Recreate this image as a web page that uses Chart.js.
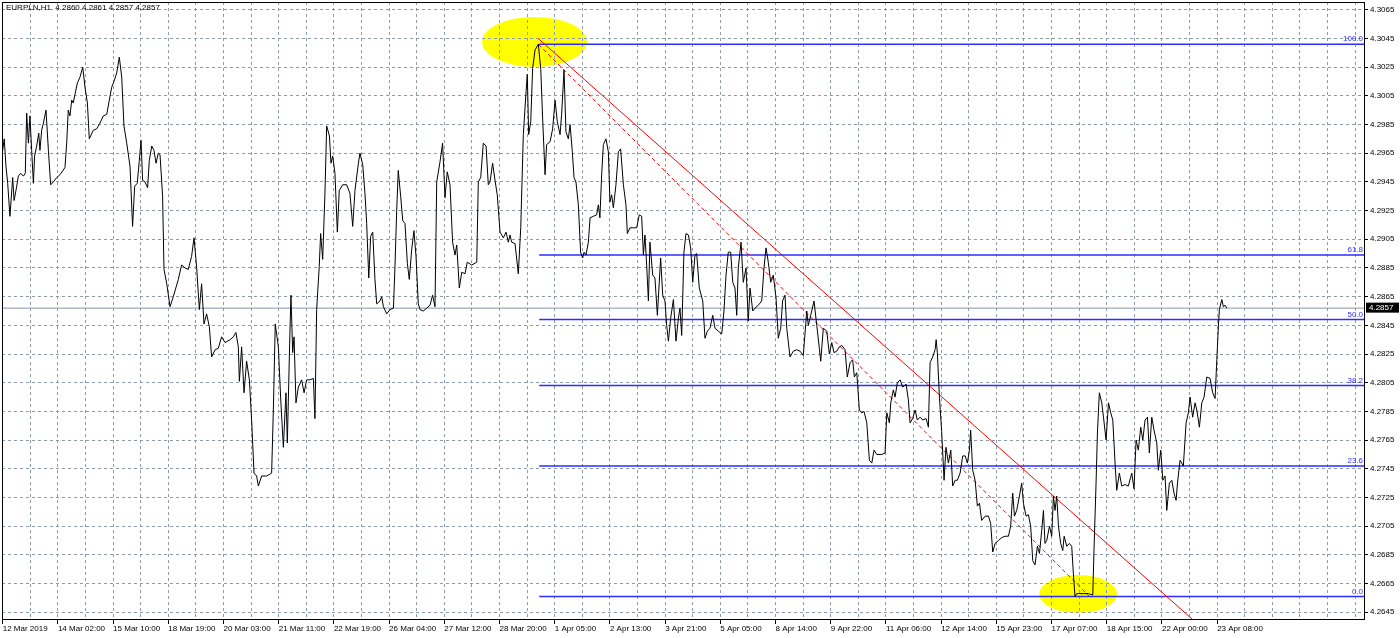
<!DOCTYPE html>
<html>
<head>
<meta charset="utf-8">
<script src="https://cdn.jsdelivr.net/npm/chart.js@4.4.0/dist/chart.umd.min.js"></script>
<style>
  html, body { margin: 0; padding: 0; background: #fff; }
  canvas { display: block; }
</style>
</head>
<body>
<canvas id="chart" width="1400" height="638"></canvas>
<script>
// EURPLN H1 close prices, x = bar number counted from the first bar on screen
const barsA = [
  0.0, 0.9, 1.9, 2.9, 4.2, 5.8, 6.6, 7.7, 9.1, 10.4,
  12.0, 13.1, 13.9, 14.9, 15.8, 16.8, 17.8, 18.5, 19.7, 20.9,
  21.6, 22.6, 23.6, 25.1, 26.5, 27.8, 29.4, 31.3, 33.2, 36.1,
  37.1, 38.0, 39.0, 40.0, 40.9, 41.9, 43.3, 44.8, 46.4, 47.7,
  49.1, 50.2, 52.5, 54.5, 56.4, 58.3, 60.3, 61.8, 63.2, 64.5,
  66.1, 67.6, 69.0, 70.3, 71.9, 73.8, 75.3, 76.5, 78.0, 79.2,
  80.2, 81.1, 82.5, 84.0, 85.0, 86.4, 87.7, 88.9, 90.2, 91.2,
  92.7, 93.5, 95.1, 97.0, 98.9, 101.8, 103.7, 105.7, 107.6, 109.5,
  110.9, 112.4, 114.0, 115.3, 116.7, 118.2, 119.8, 121.1, 123.1, 125.0,
  126.9, 128.9, 131.8, 133.7, 135.2, 136.6, 137.2, 138.5, 139.9, 141.4,
  143.0, 144.3, 145.7, 147.2, 148.2, 150.1, 153.0, 155.9, 156.9, 158.0,
  159.8, 161.1, 162.7, 164.2, 165.0, 166.5, 167.1, 168.1, 168.9, 170.0,
  171.4, 173.3, 174.7, 176.2, 178.1, 180.1, 181.0, 182.0, 183.5, 184.3,
  185.5, 186.8, 187.8, 189.4, 190.3, 191.3, 192.6, 194.0, 195.1, 197.1,
  199.4, 201.3, 202.9, 204.2, 206.2, 207.1, 208.7, 210.0, 211.0, 212.2,
  213.3, 214.5, 215.8, 216.8, 218.7, 219.7, 220.7, 222.6, 224.5, 226.5,
  227.4, 228.4, 229.3, 230.7, 231.9, 233.2, 234.6, 235.7, 237.1, 238.4,
  239.6, 240.9, 241.9
];
const pricesA = [
  4.2967, 4.2975, 4.2956, 4.2944, 4.2921, 4.2948, 4.2932, 4.2939, 4.2949, 4.2951,
  4.2949, 4.2951, 4.2993, 4.2972, 4.2991, 4.2967, 4.2944, 4.2963, 4.2970, 4.2979,
  4.2967, 4.2981, 4.2986, 4.2995, 4.2967, 4.2943, 4.2945, 4.2948, 4.2950, 4.2955,
  4.2972, 4.2995, 4.2991, 4.3002, 4.3000, 4.3006, 4.3014, 4.3018, 4.3025, 4.3011,
  4.3000, 4.2975, 4.2981, 4.2982, 4.2986, 4.2991, 4.2992, 4.3002, 4.3011, 4.3015,
  4.3021, 4.3032, 4.3018, 4.2984, 4.2972, 4.2956, 4.2914, 4.2942, 4.2944, 4.2960,
  4.2974, 4.2946, 4.2945, 4.2941, 4.2960, 4.2970, 4.2967, 4.2958, 4.2965, 4.2964,
  4.2935, 4.2884, 4.2874, 4.2858, 4.2865, 4.2877, 4.2887, 4.2885, 4.2884, 4.2893,
  4.2906, 4.2886, 4.2856, 4.2874, 4.2846, 4.2853, 4.2844, 4.2823, 4.2828, 4.2829,
  4.2837, 4.2833, 4.2835, 4.2837, 4.2840, 4.2830, 4.2806, 4.2830, 4.2798, 4.2820,
  4.2807, 4.2779, 4.2742, 4.2740, 4.2733, 4.2740, 4.2740, 4.2742, 4.2786, 4.2846,
  4.2830, 4.2795, 4.2760, 4.2798, 4.2763, 4.2840, 4.2866, 4.2826, 4.2837, 4.2791,
  4.2802, 4.2807, 4.2798, 4.2807, 4.2807, 4.2808, 4.2780, 4.2856, 4.2886, 4.2909,
  4.2891, 4.2937, 4.2984, 4.2977, 4.2958, 4.2963, 4.2951, 4.2910, 4.2939, 4.2943,
  4.2943, 4.2937, 4.2914, 4.2939, 4.2958, 4.2965, 4.2957, 4.2937, 4.2916, 4.2878,
  4.2907, 4.2910, 4.2877, 4.2860, 4.2862, 4.2865, 4.2858, 4.2853, 4.2856, 4.2857,
  4.2886, 4.2925, 4.2953, 4.2935, 4.2918, 4.2916, 4.2888, 4.2877, 4.2898, 4.2911,
  4.2893, 4.2860, 4.2856
];
const barsB = [
  243.8, 245.8, 247.7, 249.2, 250.6, 251.6, 253.5, 255.0, 256.4, 257.7,
  259.3, 260.8, 262.2, 263.2, 264.7, 266.1, 268.0, 269.3, 271.9, 274.8,
  275.7, 277.1, 278.6, 280.2, 281.5, 282.5, 284.0, 285.4, 286.7, 288.3,
  290.2, 291.8, 293.1, 294.1, 295.0, 297.0, 298.9, 300.3, 301.8, 303.4,
  304.1, 304.9, 306.1, 307.2, 308.6, 310.5, 311.9, 313.0, 314.4, 315.3,
  317.3, 318.8, 320.2, 321.5, 323.1, 324.0, 325.4, 326.5, 327.9, 328.9,
  330.2, 331.2, 332.3, 333.7, 335.0, 336.2, 337.0, 338.1, 339.5, 340.5,
  342.4, 344.3, 345.3, 346.2, 347.2, 348.2, 349.7, 351.1, 352.0, 353.0,
  354.0, 355.5, 356.9, 358.2, 359.8, 361.3, 362.1, 363.6, 365.6, 367.5,
  369.0, 370.4, 371.4, 372.3, 373.3, 374.3, 375.2, 376.8, 378.1, 379.5,
  380.6, 381.4, 382.6, 383.9, 384.9, 385.9, 387.2, 388.8, 390.3, 391.7,
  392.6, 393.6, 394.9, 396.1, 397.5, 398.8, 400.0, 401.3, 402.3, 403.8,
  405.8, 407.1, 408.5, 410.0, 411.6, 412.9, 414.8, 416.8, 418.1, 419.3,
  420.6, 422.0, 423.2, 424.5, 425.5, 426.4, 428.0, 429.3, 430.9, 432.2,
  433.2, 434.8, 436.1, 438.0, 440.0, 441.3, 442.5, 443.8, 445.2, 446.7,
  448.3, 449.6, 451.0, 452.1, 453.5, 454.5, 456.4, 458.3, 460.3, 462.2,
  464.1, 466.1, 467.0, 468.4, 470.3, 471.9, 473.4, 474.2, 475.7, 477.7,
  479.2
];
const pricesB = [
  4.2855, 4.2857, 4.2859, 4.2866, 4.2858, 4.2945, 4.2959, 4.2972, 4.2934, 4.2952,
  4.2943, 4.2903, 4.2894, 4.2901, 4.2871, 4.2882, 4.2881, 4.2889, 4.2887, 4.2889,
  4.2945, 4.2948, 4.2972, 4.2970, 4.2943, 4.2945, 4.2958, 4.2946, 4.2936, 4.2910,
  4.2906, 4.2910, 4.2903, 4.2908, 4.2903, 4.2902, 4.2881, 4.2913, 4.2978, 4.3008,
  4.3020, 4.2978, 4.2987, 4.3024, 4.3037, 4.3041, 4.3024, 4.2989, 4.2950, 4.2971,
  4.2973, 4.2982, 4.3002, 4.2987, 4.2978, 4.2992, 4.3023, 4.2980, 4.2975, 4.2985,
  4.2966, 4.2948, 4.2945, 4.2929, 4.2896, 4.2892, 4.2896, 4.2894, 4.2903, 4.2920,
  4.2921, 4.2922, 4.2929, 4.2920, 4.2950, 4.2971, 4.2975, 4.2966, 4.2931, 4.2936,
  4.2927, 4.2943, 4.2966, 4.2968, 4.2943, 4.2929, 4.2909, 4.2913, 4.2913, 4.2913,
  4.2922, 4.2921, 4.2894, 4.2908, 4.2887, 4.2862, 4.2903, 4.2880, 4.2878, 4.2852,
  4.2875, 4.2892, 4.2866, 4.2862, 4.2845, 4.2834, 4.2850, 4.2863, 4.2834, 4.2850,
  4.2857, 4.2838, 4.2896, 4.2909, 4.2908, 4.2899, 4.2875, 4.2894, 4.2895, 4.2871,
  4.2862, 4.2836, 4.2841, 4.2843, 4.2852, 4.2843, 4.2841, 4.2839, 4.2855, 4.2880,
  4.2896, 4.2896, 4.2875, 4.2871, 4.2852, 4.2885, 4.2903, 4.2875, 4.2885, 4.2848,
  4.2871, 4.2855, 4.2857, 4.2859, 4.2862, 4.2885, 4.2899, 4.2889, 4.2875, 4.2880,
  4.2864, 4.2836, 4.2843, 4.2862, 4.2866, 4.2843, 4.2823, 4.2827, 4.2828, 4.2827,
  4.2824, 4.2855, 4.2845, 4.2852, 4.2862, 4.2845, 4.2829, 4.2820, 4.2843, 4.2841,
  4.2825
];
const barsC = [
  480.6, 481.9, 483.5, 485.0, 486.4, 488.3, 489.6, 491.2, 492.7, 493.7,
  495.1, 496.6, 498.0, 499.3, 500.9, 502.4, 503.8, 505.1, 506.7, 509.6,
  511.5, 512.5, 514.0, 514.8, 516.3, 517.3, 518.6, 520.2, 521.7, 523.7,
  525.0, 526.0, 527.5, 528.9, 530.2, 531.8, 533.3, 535.3, 536.6, 537.6,
  539.1, 540.5, 541.1, 541.8, 543.0, 544.3, 545.7, 546.8, 548.2, 549.6,
  550.7, 552.1, 553.4, 555.0, 556.5, 557.9, 559.2, 560.4, 561.1, 562.3,
  563.7, 565.0, 566.2, 567.5, 569.5, 571.4, 572.7, 573.9, 575.3, 577.2,
  579.1, 581.1, 583.0, 584.3, 585.5, 586.5, 587.8, 589.4, 590.7, 591.7,
  593.2, 594.6, 595.9, 597.1, 598.4, 599.8, 601.0, 602.3, 603.3, 604.2,
  605.2, 606.8, 608.1, 609.1, 610.0, 611.0, 612.0, 613.3, 614.5, 615.3,
  616.8, 618.3, 619.7, 620.7, 621.6, 622.6, 623.6, 626.5, 629.4, 631.9,
  632.6, 633.8, 634.6, 635.7, 637.1, 638.1, 639.6, 641.0, 642.3, 643.5,
  644.8, 645.8, 647.3, 648.7, 650.6, 652.5, 654.5, 655.8, 657.0, 658.3,
  659.7, 660.9, 662.2, 663.6, 664.7, 666.1, 667.4, 669.0, 669.9, 671.3,
  672.5, 673.8, 674.8, 676.3, 677.7, 679.0, 680.2, 681.0, 682.5, 684.4,
  686.0, 687.3, 688.3, 689.8, 691.2, 692.2, 693.7, 695.1, 696.4, 698.0,
  699.9, 701.4, 702.8, 703.8, 704.7, 705.3, 706.7, 707.6, 708.6, 709.6
];
const pricesC = [
  4.2833, 4.2826, 4.2827, 4.2830, 4.2831, 4.2828, 4.2809, 4.2819, 4.2821, 4.2809,
  4.2812, 4.2786, 4.2784, 4.2785, 4.2777, 4.2751, 4.2749, 4.2758, 4.2755, 4.2755,
  4.2756, 4.2784, 4.2777, 4.2791, 4.2800, 4.2795, 4.2805, 4.2807, 4.2802, 4.2804,
  4.2793, 4.2777, 4.2780, 4.2786, 4.2779, 4.2781, 4.2779, 4.2780, 4.2774, 4.2819,
  4.2823, 4.2828, 4.2835, 4.2826, 4.2795, 4.2771, 4.2737, 4.2760, 4.2749, 4.2758,
  4.2733, 4.2737, 4.2737, 4.2742, 4.2754, 4.2754, 4.2749, 4.2758, 4.2772, 4.2744,
  4.2737, 4.2719, 4.2721, 4.2709, 4.2712, 4.2712, 4.2707, 4.2687, 4.2693, 4.2695,
  4.2697, 4.2698, 4.2698, 4.2705, 4.2728, 4.2712, 4.2716, 4.2726, 4.2735, 4.2721,
  4.2712, 4.2713, 4.2705, 4.2681, 4.2678, 4.2691, 4.2686, 4.2702, 4.2716, 4.2693,
  4.2695, 4.2705, 4.2698, 4.2726, 4.2716, 4.2726, 4.2705, 4.2693, 4.2688, 4.2698,
  4.2691, 4.2693, 4.2691, 4.2671, 4.2656, 4.2658, 4.2658, 4.2658, 4.2658, 4.2657,
  4.2688, 4.2735, 4.2770, 4.2798, 4.2791, 4.2781, 4.2765, 4.2791, 4.2784, 4.2779,
  4.2749, 4.2730, 4.2742, 4.2733, 4.2734, 4.2733, 4.2742, 4.2731, 4.2765, 4.2758,
  4.2774, 4.2765, 4.2779, 4.2781, 4.2756, 4.2781, 4.2772, 4.2763, 4.2744, 4.2758,
  4.2737, 4.2740, 4.2716, 4.2735, 4.2737, 4.2728, 4.2723, 4.2735, 4.2751, 4.2747,
  4.2777, 4.2784, 4.2795, 4.2781, 4.2791, 4.2786, 4.2774, 4.2791, 4.2795, 4.2809,
  4.2808, 4.2798, 4.2794, 4.2821, 4.2844, 4.2856, 4.2863, 4.2858, 4.2859, 4.2857
];

// time axis: one label every 32 bars, starting at bar 0
const xLabels = [
  '12 Mar 2019', '14 Mar 02:00', '15 Mar 10:00', '18 Mar 19:00', '20 Mar 03:00',
  '21 Mar 11:00', '22 Mar 19:00', '26 Mar 04:00', '27 Mar 12:00', '28 Mar 20:00',
  '1 Apr 05:00', '2 Apr 13:00', '3 Apr 21:00', '5 Apr 05:00', '8 Apr 14:00',
  '9 Apr 22:00', '11 Apr 06:00', '12 Apr 14:00', '15 Apr 23:00', '17 Apr 07:00',
  '18 Apr 15:00', '22 Apr 00:00', '23 Apr 08:00'
];
const yTicks = [
  4.2645, 4.2665, 4.2685, 4.2705, 4.2725, 4.2745, 4.2765, 4.2785, 4.2805, 4.2825, 4.2845,
  4.2865, 4.2885, 4.2905, 4.2925, 4.2945, 4.2965, 4.2985, 4.3005, 4.3025, 4.3045, 4.3065
];

// Fibonacci retracement (high 4.3041 -> low 4.2656)
const fibLevels = ['0.0', '23.6', '38.2', '50.0', '61.8', '100.0'];
const fibPrices = [4.2656, 4.2747, 4.2803, 4.2849, 4.2894, 4.3041];
const fibStartBar = 311;
// fib anchor line (dashed) and down trend line
const fibAnchorBars = [310.5, 630];
const fibAnchorPrices = [4.3041, 4.2656];
const trendBars = [310.4, 700];
const trendPrices = [4.3045, 4.2629];
// yellow ellipses: centre and half sizes in bars / price
const markBars = [308.3, 623.4];
const markPrices = [4.30426, 4.26577];
const markHalfBars = [30.4, 22.6];
const markHalfPrices = [0.00174, 0.00132];

const lastPrice = 4.2857;
const title = 'EURPLN,H1  4.2860 4.2861 4.2857 4.2857';

const X_MIN = -0.4, X_MAX = 789.7;
const Y_MIN = 4.26403, Y_MAX = 4.30704;
const FONT = "'Liberation Sans', Arial, sans-serif";
const GRID = '#8e9bab';

const pts = (xs, ys) => xs.map((x, i) => ({ x, y: ys[i] }));
const priceData = pts(barsA, pricesA).concat(pts(barsB, pricesB), pts(barsC, pricesC));

function line(data, color, width, dash) {
  return {
    data, borderColor: color, borderWidth: width, borderDash: dash || [],
    pointRadius: 0, pointHoverRadius: 0, tension: 0, fill: false
  };
}

const datasets = [
  line(priceData, '#000', 1),
  line(pts(trendBars, trendPrices), '#ff0000', 1),
  line(pts(fibAnchorBars, fibAnchorPrices), '#ff0000', 1, [4, 3]),
  ...fibPrices.map(p => line([{ x: fibStartBar, y: p }, { x: X_MAX, y: p }], 'rgb(45,45,255)', 1.5)),
  line([{ x: X_MIN, y: lastPrice }, { x: X_MAX, y: lastPrice }], '#8796a8', 1)
];

const mt4 = {
  id: 'mt4',
  beforeDraw(chart) {
    const { ctx, scales: { x, y } } = chart;
    ctx.save();
    ctx.fillStyle = '#fff';
    ctx.fillRect(0, 0, chart.width, chart.height);
    ctx.fillStyle = '#ffff00';
    markBars.forEach((b, i) => {
      const cx = x.getPixelForValue(b);
      const cy = y.getPixelForValue(markPrices[i]);
      const rx = x.getPixelForValue(b + markHalfBars[i]) - cx;
      const ry = cy - y.getPixelForValue(markPrices[i] + markHalfPrices[i]);
      ctx.beginPath();
      ctx.ellipse(cx, cy, rx, ry, 0, 0, Math.PI * 2);
      ctx.fill();
    });
    ctx.restore();
  },
  afterDatasetsDraw(chart) {
    const { ctx, chartArea, scales: { y } } = chart;
    ctx.save();
    ctx.font = '8px ' + FONT;
    ctx.fillStyle = 'rgb(45,45,255)';
    ctx.textAlign = 'right';
    ctx.textBaseline = 'bottom';
    fibLevels.forEach((lbl, i) => {
      ctx.fillText(lbl, chartArea.right - 2, y.getPixelForValue(fibPrices[i]) - 1);
    });
    ctx.restore();
  },
  afterDraw(chart) {
    const { ctx, chartArea: a, scales: { y } } = chart;
    ctx.save();
    // frame
    ctx.strokeStyle = '#000';
    ctx.lineWidth = 1;
    ctx.strokeRect(Math.round(a.left) + 0.5, Math.round(a.top) + 0.5,
      Math.round(a.right - a.left) - 1, Math.round(a.bottom - a.top));
    // title
    ctx.font = '8px ' + FONT;
    ctx.fillStyle = '#000';
    ctx.textAlign = 'left';
    ctx.textBaseline = 'middle';
    ctx.fillText(title, 6, 8);
    // last price box
    const py = y.getPixelForValue(lastPrice);
    ctx.fillRect(a.right + 1, py - 5.5, 33, 10);
    ctx.fillStyle = '#fff';
    ctx.fillText(lastPrice.toFixed(4), a.right + 4, py - 0.5);
    ctx.restore();
  }
};

new Chart(document.getElementById('chart'), {
  type: 'line',
  data: { datasets },
  options: {
    responsive: false,
    devicePixelRatio: 1,
    animation: false,
    layout: { padding: { left: 2, top: 2, right: 0, bottom: 0 } },
    plugins: { legend: { display: false }, tooltip: { enabled: false }, title: { display: false } },
    scales: {
      x: {
        type: 'linear',
        position: 'bottom',
        min: X_MIN,
        max: X_MAX,
        afterBuildTicks(s) {
          const t = [];
          for (let v = 0; v <= X_MAX; v += 16) t.push({ value: v });
          s.ticks = t;
        },
        afterFit(s) { s.height = 19; s.paddingLeft = 0; s.paddingRight = 0; },
        ticks: {
          autoSkip: false, maxRotation: 0, minRotation: 0, align: 'start', padding: 0,
          color: '#000', font: { family: FONT, size: 8 },
          callback(v) {
            const i = v / 32;
            return Number.isInteger(i) && i < xLabels.length ? xLabels[i] : '';
          }
        },
        grid: {
          color: GRID, lineWidth: 1, drawTicks: true, tickLength: 5, tickWidth: 1,
          tickBorderDash: [],
          tickColor: c => (c.tick && c.tick.value % 32 === 0 && c.tick.value / 32 < xLabels.length) ? '#000' : 'rgba(0,0,0,0)'
        },
        border: { display: false, dash: [3, 3] }
      },
      y: {
        type: 'linear',
        position: 'right',
        min: Y_MIN,
        max: Y_MAX,
        afterBuildTicks(s) { s.ticks = yTicks.map(v => ({ value: v })); },
        afterFit(s) { s.width = 35; s.paddingTop = 0; s.paddingBottom = 0; },
        ticks: {
          padding: 2, color: '#000', font: { family: FONT, size: 8 },
          callback: v => v.toFixed(4)
        },
        grid: {
          color: GRID, lineWidth: 1, drawTicks: true, tickLength: 3, tickWidth: 1,
          tickBorderDash: [], tickColor: '#000'
        },
        border: { display: false, dash: [3, 3] }
      }
    }
  },
  plugins: [mt4]
});
</script>
</body>
</html>
